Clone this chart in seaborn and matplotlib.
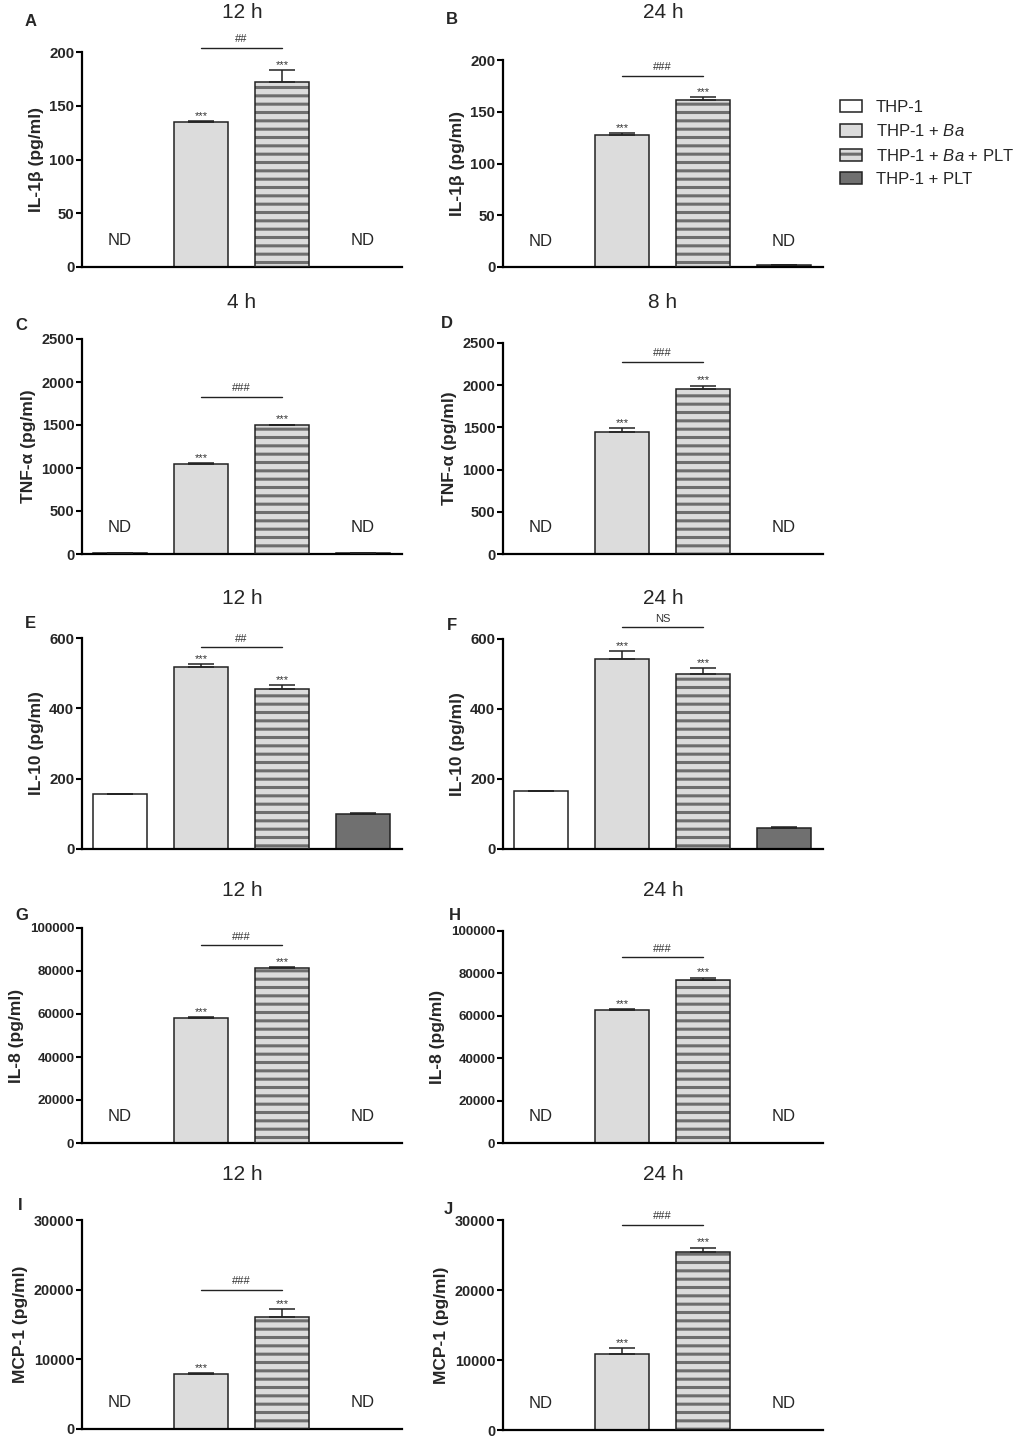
import matplotlib
matplotlib.use('Agg')

import numpy as np
import pandas as pd
import matplotlib.pyplot as plt
import seaborn as sns
from matplotlib.patches import Patch

# ---- data ----
groups = ["THP-1", "THP-1 + Ba", "THP-1 + Ba + PLT", "THP-1 + PLT"]
legend_labels = ["THP-1", r"THP-1 + $\it{Ba}$", r"THP-1 + $\it{Ba}$ + PLT", "THP-1 + PLT"]
letters = ["A", "B", "C", "D", "E", "F", "G", "H", "I", "J"]
titles = ["12 h", "24 h", "4 h", "8 h", "12 h", "24 h", "12 h", "24 h", "12 h", "24 h"]
ylabels = ["IL-1β (pg/ml)", "IL-1β (pg/ml)", "TNF-α (pg/ml)", "TNF-α (pg/ml)",
           "IL-10 (pg/ml)", "IL-10 (pg/ml)", "IL-8 (pg/ml)", "IL-8 (pg/ml)",
           "MCP-1 (pg/ml)", "MCP-1 (pg/ml)"]

means = [
    [0, 135, 172, 0],
    [0, 128, 161, 1.5],
    [8, 1050, 1500, 8],
    [0, 1450, 1950, 0],
    [155, 517, 455, 100],
    [165, 543, 500, 60],
    [0, 58200, 81400, 0],
    [0, 62700, 77000, 0],
    [0, 7900, 16100, 0],
    [0, 10900, 25500, 0],
]
sems = [
    [0, 1, 11, 0],
    [0, 1, 3, 0.5],
    [0, 10, 5, 0],
    [0, 45, 45, 0],
    [2, 10, 10, 3],
    [2, 22, 18, 4],
    [0, 500, 500, 0],
    [0, 600, 1000, 0],
    [0, 150, 1100, 0],
    [0, 850, 550, 0],
]
ymax = [200, 200, 2500, 2500, 600, 600, 100000, 100000, 30000, 30000]
ystep = [50, 50, 500, 500, 200, 200, 20000, 20000, 10000, 10000]
not_detected = [True, True, True, True, False, False, True, True, True, True]
sig_text = ["##", "###", "###", "###", "##", "NS", "###", "###", "###", "###"]
sig_y = [204, 185, 1826, 2275, 574, 634, 92000, 87700, 20000, 29300]

# ---- style ----
light = "#dcdcdc"
stripe = "#6e6e6e"
edge = "#222222"
bar_colors = ["#ffffff", light, light, "#707070"]

sns.set_style("ticks")
plt.rcParams['font.family'] = ['Liberation Sans', 'DejaVu Sans']
plt.rcParams['mathtext.fontset'] = 'custom'
plt.rcParams['mathtext.rm'] = 'Liberation Sans'
plt.rcParams['mathtext.it'] = 'Liberation Sans:italic'
plt.rcParams['hatch.linewidth'] = 2.2

W, H = 1020, 1440
fig = plt.figure(figsize=(W / 100, H / 100), dpi=100)

# axes frames in pixels: (top, bottom)
tops = [52, 60, 339, 343, 638, 639, 928, 931, 1220, 1220]
bottoms = [267, 267, 554, 554, 849, 849, 1143, 1143, 1429, 1430]
col_left = [82, 503]
ax_w = 320
title_y = [12, 12, 302, 303, 598, 598, 890, 890, 1175, 1175]
letter_xy = [(31, 22), (452, 20), (21, 325), (447, 323), (30, 623), (452, 625),
             (22, 915), (455, 915), (20, 1205), (448, 1210)]
tick_fs = [10.8, 10.8, 10.5, 10.5, 10.8, 10.8, 9.6, 9.6, 10.4, 10.4]
bw = 0.67

for i in range(10):
    left = col_left[i % 2]
    ax = fig.add_axes([left / W, 1 - bottoms[i] / H, ax_w / W, (bottoms[i] - tops[i]) / H])
    df = pd.DataFrame({"group": groups, "value": means[i]})
    sns.barplot(data=df, x="group", y="value", hue="group", order=groups,
                hue_order=groups, palette=bar_colors, saturation=1, width=bw,
                edgecolor=edge, linewidth=1.1, errorbar=None, legend=False, ax=ax)

    # striped bar: hatch in grey, outline in black on top
    for p in ax.patches:
        if abs(p.get_x() + p.get_width() / 2 - 2) < 0.1:
            p.set_hatch('--')
            p.set_edgecolor(stripe)
            p.set_linewidth(0)
    ax.bar(2, means[i][2], width=bw, fill=False, edgecolor=edge, linewidth=1.1, zorder=3)

    vals = np.array(means[i], dtype=float)
    errs = np.array(sems[i], dtype=float)
    xs = np.arange(4)
    keep = vals > 0
    ax.errorbar(xs[keep], vals[keep], yerr=[np.zeros(keep.sum()), errs[keep]],
                fmt='none', ecolor=edge, elinewidth=1.1, capsize=9.5, capthick=1.1, zorder=4)

    for k in (1, 2):
        ax.annotate("***", (k, vals[k] + errs[k]), xytext=(0, 1.5), textcoords='offset points',
                    ha='center', va='baseline', fontsize=8, color='#333333')

    ax.plot([1, 2], [sig_y[i], sig_y[i]], color=edge, lw=1.0, clip_on=False)
    ax.annotate(sig_text[i], (1.5, sig_y[i]), xytext=(0, 4), textcoords='offset points',
                ha='center', va='baseline', fontsize=8, color='#333333', annotation_clip=False)

    if not_detected[i]:
        for k in (0, 3):
            ax.text(k, 0.125, "ND", transform=ax.get_xaxis_transform(),
                    ha='center', va='center', fontsize=12)

    ax.set_xlim(-0.47, 3.48)
    ax.set_ylim(0, ymax[i])
    ax.set_yticks(np.arange(0, ymax[i] + 1, ystep[i]))
    ax.set_xticks([])
    ax.set_xlabel("")
    ax.set_ylabel(ylabels[i], fontsize=12.5, fontweight='bold', labelpad=4)
    for lab in ax.get_yticklabels():
        lab.set_fontweight('bold')
        lab.set_fontsize(tick_fs[i])
    ax.tick_params(axis='y', direction='out', length=4, width=1.5, pad=1.5, color='black')
    sns.despine(ax=ax)
    for s in ("left", "bottom"):
        ax.spines[s].set_linewidth(1.6)
        ax.spines[s].set_color('black')

    fig.text((left + ax_w / 2) / W, 1 - title_y[i] / H, titles[i],
             ha='center', va='center', fontsize=15)
    lx, ly = letter_xy[i]
    fig.text(lx / W, 1 - ly / H, letters[i], ha='center', va='center',
             fontsize=12, fontweight='bold')

# legend
handles = []
for k in range(4):
    if k == 2:
        handles.append((Patch(facecolor=light, edgecolor=stripe, hatch='--', linewidth=0),
                        Patch(facecolor='none', edgecolor=edge, linewidth=1.1)))
    else:
        handles.append(Patch(facecolor=bar_colors[k], edgecolor=edge, linewidth=1.1))
fig.legend(handles, legend_labels, loc='upper left', bbox_to_anchor=(840 / W, 1 - 100 / H),
           frameon=False, fontsize=12, borderpad=0, borderaxespad=0,
           handlelength=1.35, handleheight=0.75, handletextpad=0.8, labelspacing=0.5)

fig.savefig("out.png", dpi=100)
